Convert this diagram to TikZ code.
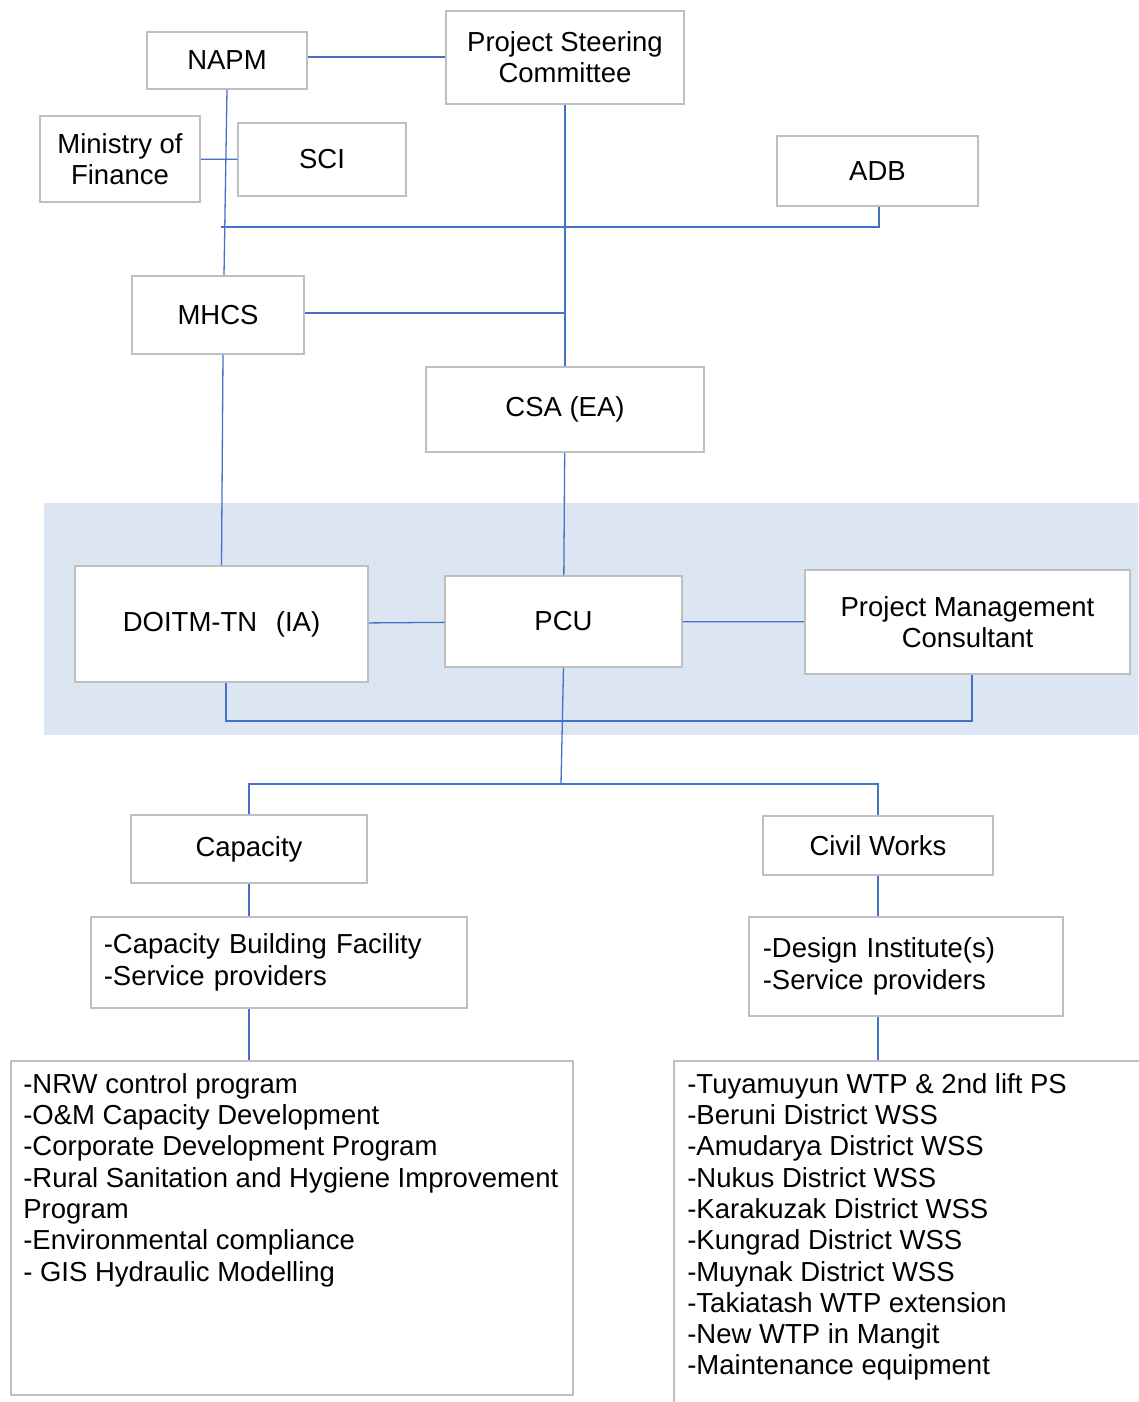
\documentclass[tikz,border=0pt]{standalone}
\usepackage{fontspec}
\setmainfont{Liberation Sans}
\usetikzlibrary{positioning}
\definecolor{linkblue}{RGB}{68,114,196}
\definecolor{boxgray}{RGB}{191,191,191}
\definecolor{bandblue}{RGB}{220,230,242}

\begin{document}
\begin{tikzpicture}[x=1pt,y=-1pt,semithick]
 \tikzstyle{org node}=[rectangle,draw=boxgray,line width=1.5pt,fill=white,inner sep=0,align=center,font=\fontsize{27.5}{31.3}\selectfont]
 \tikzstyle{list node}=[org node,align=left,anchor=west,inner ysep=0]
 \tikzset{
 	plain text/.style={inner sep=0,align=left,font=\fontsize{27.5}{31.3}\selectfont},
 	link/.style={draw=linkblue,line width=1.3pt}
 }
 \useasboundingbox (0,0) rectangle (1138,1402);
 \fill[bandblue] (44,503) rectangle (1138,735);

       \node[org node,minimum width=160,minimum height=57] (napm) at (227,60.5) {NAPM};
       \node[org node,minimum width=238,minimum height=93] (psc) at (565,57.5) {Project Steering\\Committee};
       \node[org node,minimum width=160,minimum height=86] (mof) at (120,159) {Ministry of\\Finance};
       \node[org node,minimum width=168,minimum height=73] (sci) at (322,159.5) {SCI};
       \node[org node,minimum width=201,minimum height=70] (adb) at (877.5,171) {ADB};
       \node[org node,minimum width=172,minimum height=78] (mhcs) at (218,315) {MHCS};
       \node[org node,minimum width=278,minimum height=85] (csa) at (565,409.5) {CSA (EA)};

       \node[org node,minimum width=293,minimum height=116] (doitm) at (221.5,624) {DOITM-TN\hspace{0.4em} (IA)};
       \node[org node,minimum width=237,minimum height=91] (pcu) at (563.5,621.5) {PCU};
       \node[org node,minimum width=325,minimum height=104] (pmc) at (967.5,622) {Project Management\\Consultant};

       \node[org node,minimum width=236,minimum height=68] (cap) at (249,849) {Capacity};
       \node[org node,minimum width=230,minimum height=59] (civ) at (878,845.5) {Civil Works};
       \node[list node,inner xsep=13,text width=350,minimum height=91] (cbf) at (90,962.5) {-Capacity Building Facility\\-Service providers};
       \node[list node,inner xsep=14,text width=286,minimum height=99] (dsn) at (748,966.5) {-Design Institute(s)\\-Service providers};

       \node[org node,anchor=north west,minimum width=562,minimum height=334] (nrw) at (10,1060) {};
       \node[org node,anchor=north west,minimum width=500,minimum height=400] (works) at (673,1060) {};
       \node[plain text,below right=13pt and 13pt of nrw.north west] (nrwlist) {-NRW control program\\-O\&M Capacity Development\\-Corporate Development Program\\-Rural Sanitation and Hygiene Improvement\\Program\\-Environmental compliance\\- GIS Hydraulic Modelling};
       \node[plain text,below right=13pt and 14pt of works.north west] (worklist) {-Tuyamuyun WTP \& 2nd lift PS\\-Beruni District WSS\\-Amudarya District WSS\\-Nukus District WSS\\-Karakuzak District WSS\\-Kungrad District WSS\\-Muynak District WSS\\-Takiatash WTP extension\\-New WTP in Mangit\\-Maintenance equipment};

       \coordinate (adbjoin) at (221,227);
       \coordinate (loopbase) at (600,721);
       \coordinate (split) at (561,784);

     \draw[link] ([yshift=0.5pt]napm.east |- psc.west) -- ([yshift=0.5pt]psc.west);
     \path[link] (mof) edge (sci);
     \path[link] (napm.south) edge ([xshift=6pt]mhcs.north);
     \draw[link] ([xshift=1.5pt]adb.south) |- (adbjoin);
     \path[link] (psc) edge (csa);
     \draw[link] ([yshift=2pt]mhcs.east) -- ([yshift=2pt]mhcs.east -| psc.south);
     \path[link] (csa) edge (pcu);
     \path[link] ([xshift=5pt]mhcs.south) edge (doitm.north);

     \path[link] (doitm) edge (pcu);
     \path[link] (pcu) edge (pmc);
     \draw[link] ([xshift=4.5pt]doitm.south) |- (loopbase) -| ([xshift=4.5pt]pmc.south);
     \path[link] (pcu.south) edge (split);

     \draw[link] (cap.north) |- (split) -| (civ.north);
     \draw[link] (cap.south) -- (cap.south |- cbf.north);
     \draw[link] (cap.south |- cbf.south) -- (cap.south |- nrw.north);
     \draw[link] (civ.south) -- (civ.south |- dsn.north);
     \draw[link] (civ.south |- dsn.south) -- (civ.south |- works.north);
 \end{tikzpicture}
\end{document}
